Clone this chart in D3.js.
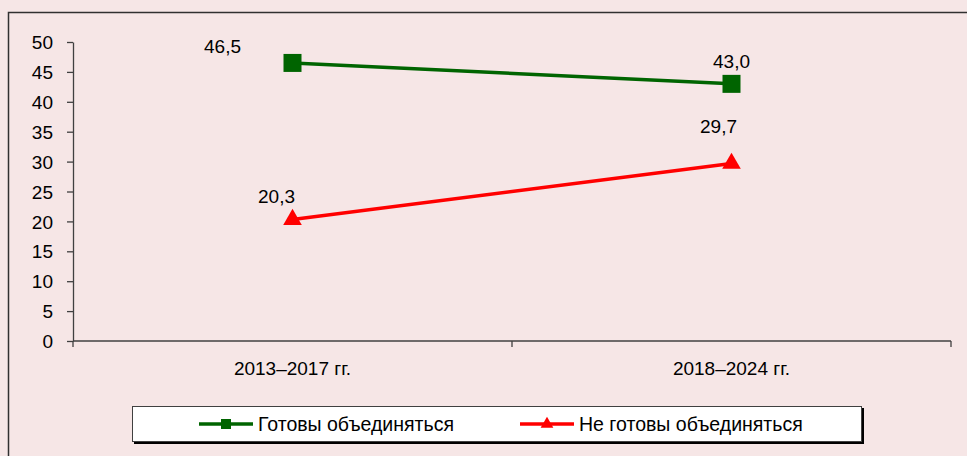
<!DOCTYPE html>
<html>
<head>
<meta charset="utf-8">
<script src="https://cdn.jsdelivr.net/npm/d3@7"></script>
<style>
    html, body { margin: 0; padding: 0; background: #f6e6e6; }
    svg { display: block; font-family: "Liberation Sans", Arial, sans-serif; }
    .axis text { font-size: 19px; fill: #000; }
    .axis line, .axis path { stroke: #404040; stroke-width: 1.3; }
    .val-label { font-size: 19px; fill: #000; }
    .legend-text { font-size: 19.5px; fill: #000; }
</style>
</head>
<body>
<svg id="chart"></svg>
<script>
var categories = ["2013–2017 гг.", "2018–2024 гг."];
var seriesNames = ["Готовы объединяться", "Не готовы объединяться"];
var readyValues = [46.5, 43.0];
var notReadyValues = [20.3, 29.7];
var yTicks = [0, 5, 10, 15, 20, 25, 30, 35, 40, 45, 50];

var width = 967, height = 456;
var svg = d3.select("#chart").attr("width", width).attr("height", height);

// outer frame (runs off the right/bottom edge like the source)
svg.append("rect")
    .attr("x", 8.5).attr("y", 12.5)
    .attr("width", width + 20).attr("height", height + 20)
    .attr("fill", "#f6e6e6")
    .attr("stroke", "#303030").attr("stroke-width", 1.5);

var x = d3.scaleBand().domain(categories).range([73, 951]).padding(0);
var y = d3.scaleLinear().domain([0, 50]).range([341, 42]);

var series = [
    {name: seriesNames[0], values: readyValues, color: "#006400", marker: "square"},
    {name: seriesNames[1], values: notReadyValues, color: "#ff0000", marker: "triangle"}
];

// y axis
var gy = svg.append("g")
    .attr("class", "axis")
    .attr("transform", "translate(73,0)")
    .call(d3.axisLeft(y).tickValues(yTicks).tickSize(6).tickPadding(14).tickSizeOuter(0));
gy.selectAll("text").attr("dy", "0.35em");

// x axis
var gx = svg.append("g")
    .attr("class", "axis")
    .attr("transform", "translate(0,341)")
    .call(d3.axisBottom(x).tickSize(0).tickPadding(21).tickSizeOuter(0));
gx.select(".domain").attr("d", "M73,0H951");
var bounds = categories.map(function (c) { return x(c); }).concat([x(categories[1]) + x.bandwidth()]);
gx.selectAll(".bound")
    .data(bounds)
    .enter().append("line")
    .attr("class", "bound")
    .attr("x1", function (d) { return d; })
    .attr("x2", function (d) { return d; })
    .attr("y1", 0).attr("y2", 6);

function cx(i) { return x(categories[i]) + x.bandwidth() / 2; }

var line = d3.line()
    .x(function (d, i) { return cx(i); })
    .y(function (d) { return y(d); });

var square = d3.symbol().type(d3.symbolSquare).size(324);
var triangle = d3.symbol().type(d3.symbolTriangle).size(150);

series.forEach(function (s) {
    svg.append("path")
        .datum(s.values)
        .attr("d", line)
        .attr("fill", "none")
        .attr("stroke", s.color)
        .attr("stroke-width", 3.5);
    svg.selectAll(".m-" + s.marker)
        .data(s.values)
        .enter().append("path")
        .attr("class", "m-" + s.marker)
        .attr("transform", function (d, i) { return "translate(" + cx(i) + "," + y(d) + ")"; })
        .attr("d", s.marker === "square" ? square : triangle)
        .attr("fill", s.color);
});

// value labels, manually nudged like in the source chart
var labelNudge = [
    [[-70, -10], [0, -16]],
    [[-16, -17], [-13, -30]]
];
series.forEach(function (s, si) {
    svg.selectAll(".vl" + si)
        .data(s.values)
        .enter().append("text")
        .attr("class", "val-label")
        .attr("text-anchor", "middle")
        .attr("x", function (d, i) { return cx(i) + labelNudge[si][i][0]; })
        .attr("y", function (d, i) { return y(d) + labelNudge[si][i][1]; })
        .text(function (d) { return d.toFixed(1).replace(".", ","); });
});

// legend
var lg = svg.append("g");
lg.append("rect").attr("x", 134).attr("y", 408).attr("width", 730).attr("height", 36).attr("fill", "#000");
lg.append("rect").attr("x", 132.5).attr("y", 406.5).attr("width", 729).attr("height", 35)
    .attr("fill", "#fff").attr("stroke", "#404040").attr("stroke-width", 1);
var legendX = [199, 520];
series.forEach(function (s, i) {
    var g = lg.append("g").attr("transform", "translate(" + legendX[i] + ",424)");
    g.append("line").attr("x1", 0).attr("x2", 54).attr("y1", 0).attr("y2", 0)
        .attr("stroke", s.color).attr("stroke-width", 3.5);
    g.append("path")
        .attr("transform", "translate(27,0)")
        .attr("d", d3.symbol().type(s.marker === "square" ? d3.symbolSquare : d3.symbolTriangle).size(s.marker === "square" ? 100 : 70))
        .attr("fill", s.color);
    g.append("text").attr("class", "legend-text")
        .attr("x", 59).attr("dy", "0.35em")
        .text(s.name);
});
</script>
</body>
</html>
